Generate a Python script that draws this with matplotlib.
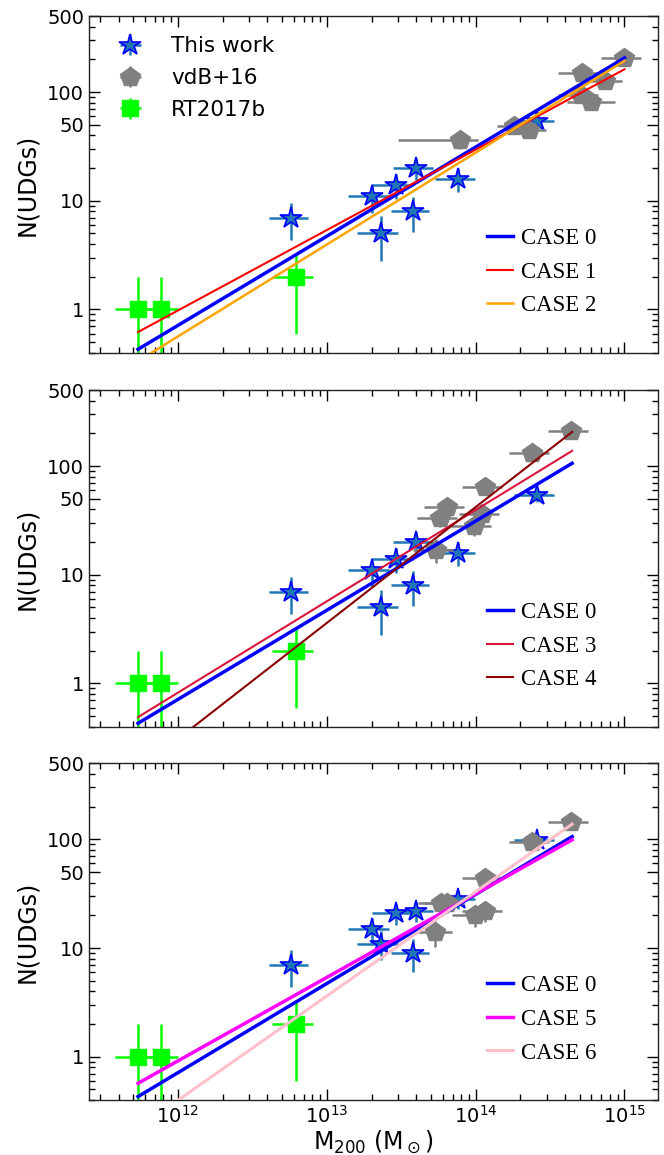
import matplotlib
matplotlib.use('Agg')
import matplotlib.pyplot as plt
import numpy as np
from matplotlib.ticker import LogLocator, NullFormatter

# ---------------- data ----------------
# This work (stars)
star_x = [5.8e12, 2.0e13, 2.3e13, 2.9e13, 3.8e13, 4.0e13, 7.6e13, 2.6e14]
star_xerr = [1.7e12, 6.0e12, 7.0e12, 8.7e12, 1.1e13, 1.2e13, 2.3e13, 7.8e13]
star_n_a = [7, 11, 5, 14, 8, 20, 16, 54]          # panels 1 and 2
star_nerr_a = [2.6, 3.3, 2.2, 3.7, 2.8, 4.5, 4.0, 7.3]
star_n_b = [7, 15, 11, 21, 9, 22, 28, 98]         # panel 3
star_nerr_b = [2.6, 3.9, 3.3, 4.6, 3.0, 4.7, 5.3, 9.9]

# RT2017b (green squares)
rt_x = [5.4e11, 7.7e11, 6.2e12]
rt_xerr = [1.6e11, 2.3e11, 1.9e12]
rt_n = [1, 1, 2]
rt_nerr_lo = [0.99, 0.99, 1.4]
rt_nerr_hi = [1.0, 1.0, 1.3]

# vdB+16 (grey pentagons), one set per panel
vdb1_x = [7.9e13, 1.8e14, 2.3e14, 5.2e14, 7.4e14, 5.1e14, 6.0e14, 1.0e15]
vdb1_xerr_lo = [4.9e13, 4.0e13, 6.9e13, 1.6e14, 2.2e14, 1.5e14, 1.9e14, 3.0e14]
vdb1_xerr_hi = [2.4e13, 5.4e13, 6.9e13, 1.6e14, 2.2e14, 1.5e14, 2.7e14, 3.0e14]
vdb1_n = [36, 49, 45, 150, 127, 93, 81, 204]
vdb1_nerr = [6.0, 7.0, 6.7, 12.2, 11.3, 9.6, 9.0, 14.3]

vdb2_x = [5.4e13, 5.8e13, 6.4e13, 9.8e13, 1.1e14, 1.15e14, 2.4e14, 4.4e14]
vdb2_n = [17, 33, 42, 28, 36, 64, 132, 210]
vdb2_nerr = [4.1, 5.7, 6.5, 5.3, 6.0, 8.0, 11.5, 14.5]

vdb3_x = [5.3e13, 5.9e13, 6.4e13, 9.9e13, 1.16e14, 1.16e14, 2.4e14, 4.4e14]
vdb3_n = [14, 26, 26, 20, 22, 44, 95, 145]
vdb3_nerr = [3.7, 5.1, 5.1, 4.5, 4.7, 6.6, 9.7, 12.0]

# fitted relations: end points (mass range and N at both ends)
fit_x1 = [5.4e11, 1.0e15]
fit_x23 = [5.4e11, 4.45e14]
case0_n1 = [0.43, 206]
case1_n = [0.62, 162]
case2_n = [0.335, 194]
case0_n23 = [0.43, 106]
case3_n = [0.49, 138]
case4_n = [0.16, 206]
case5_n = [0.57, 99]
case6_n = [0.22, 138]

# ---------------- figure ----------------
fig = plt.figure(figsize=(6.64, 11.55), dpi=100)
left, width, height = 0.134, 0.857, 0.2915
bottoms = [0.6946, 0.3708, 0.0476]
axes = [fig.add_axes([left, b, width, height]) for b in bottoms]


def style(ax, show_x):
    ax.set_xscale('log')
    ax.set_yscale('log')
    ax.set_xlim(2.53e11, 1.68e15)
    ax.set_ylim(0.4, 500)
    ax.set_yticks([1, 10, 50, 100, 500])
    ax.set_yticklabels(['1', '10', '50', '100', '500'])
    ax.yaxis.set_minor_locator(LogLocator(base=10, subs=np.arange(2, 10)))
    ax.yaxis.set_minor_formatter(NullFormatter())
    ax.xaxis.set_major_locator(LogLocator(base=10, numticks=10))
    ax.xaxis.set_minor_locator(LogLocator(base=10, subs=np.arange(2, 10), numticks=20))
    ax.xaxis.set_minor_formatter(NullFormatter())
    ax.tick_params(which='both', direction='in', top=True, right=True,
                   labelsize=14)
    ax.tick_params(which='major', length=8, width=1)
    ax.tick_params(which='minor', length=4, width=1)
    if not show_x:
        ax.tick_params(axis='x', labelbottom=False)
    ax.set_ylabel('N(UDGs)', fontsize=17, labelpad=6)
    for s in ax.spines.values():
        s.set_linewidth(1.0)
        s.set_color('#222222')


def draw_data(ax, sn, snerr, vx, vn, vnerr, vxerr):
    hs = ax.errorbar(star_x, sn, xerr=star_xerr, yerr=snerr, fmt='*', ms=16,
                     mfc='#1f77b4', mec='blue', mew=1.2, ecolor='#1f77b4',
                     elinewidth=1.8, capsize=0, label='This work', zorder=2)
    hv = ax.errorbar(vx, vn, xerr=vxerr, yerr=vnerr, fmt='p', ms=15,
                     color='grey', ecolor='grey', elinewidth=1.8, capsize=0,
                     label='vdB+16', zorder=2.1)
    hr = ax.errorbar(rt_x, rt_n, xerr=rt_xerr, yerr=[rt_nerr_lo, rt_nerr_hi],
                     fmt='s', ms=12, color='lime', ecolor='lime',
                     elinewidth=1.8, capsize=0, label='RT2017b', zorder=2.2)
    return hs, hv, hr


def draw_fits(ax, xs, fits):
    hl = []
    for lab, n, c, lw in fits:
        h, = ax.plot(xs, n, color=c, lw=lw, label=lab, zorder=4)
        hl.append(h)
    leg = ax.legend(handles=hl, loc='center left', bbox_to_anchor=(0.699, 0.2396),
                    frameon=False, borderpad=0, borderaxespad=0,
                    handlelength=1.13, handletextpad=0.35, labelspacing=0.55,
                    prop={'family': 'Liberation Serif', 'size': 16.5})
    return leg


ax1, ax2, ax3 = axes
vdb_xerr1 = [vdb1_xerr_lo, vdb1_xerr_hi]
vdb_xerr2 = [0.3 * v for v in vdb2_x]
vdb_xerr3 = [0.3 * v for v in vdb3_x]

hs, hv, hr = draw_data(ax1, star_n_a, star_nerr_a, vdb1_x, vdb1_n, vdb1_nerr, vdb_xerr1)
leg1 = draw_fits(ax1, fit_x1, [('CASE 0', case0_n1, 'blue', 2.5),
                               ('CASE 1', case1_n, 'red', 1.5),
                               ('CASE 2', case2_n, 'orange', 1.8)])
ax1.add_artist(leg1)
ax1.legend(handles=[hs, hv, hr], loc='upper left', bbox_to_anchor=(0.054, 0.94),
           frameon=False, borderpad=0, borderaxespad=0, labelspacing=0.55,
           fontsize=15.5, handlelength=1.0, handletextpad=1.4, numpoints=1)
style(ax1, False)

draw_data(ax2, star_n_a, star_nerr_a, vdb2_x, vdb2_n, vdb2_nerr, vdb_xerr2)
draw_fits(ax2, fit_x23, [('CASE 0', case0_n23, 'blue', 2.5),
                         ('CASE 3', case3_n, 'crimson', 1.5),
                         ('CASE 4', case4_n, 'darkred', 1.5)])
style(ax2, False)

draw_data(ax3, star_n_b, star_nerr_b, vdb3_x, vdb3_n, vdb3_nerr, vdb_xerr3)
draw_fits(ax3, fit_x23, [('CASE 0', case0_n23, 'blue', 2.5),
                         ('CASE 5', case5_n, 'magenta', 2.5),
                         ('CASE 6', case6_n, 'pink', 2.2)])
style(ax3, True)
ax3.set_xlabel(r'M$_{200}$ (M$_\odot$)', fontsize=17, labelpad=1)

fig.savefig('out.png', dpi=100)
